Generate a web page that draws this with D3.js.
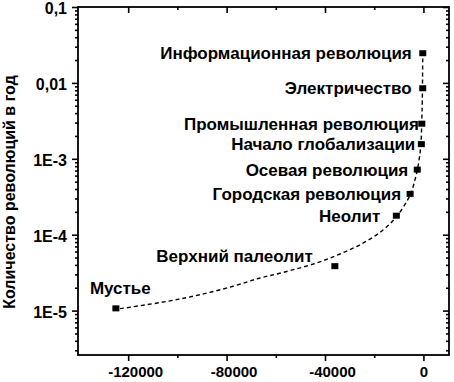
<!DOCTYPE html>
<html>
<head>
<meta charset="utf-8">
<script src="https://cdn.jsdelivr.net/npm/d3@7"></script>
<style>
  html, body { margin: 0; padding: 0; background: #fff; }
  svg text { font-family: "Liberation Sans", Arial, sans-serif; fill: #000; }
</style>
</head>
<body>
<svg id="chart" width="454" height="382"></svg>
<script>
// ---- Data ----
const categories = ["Мустье", "Верхний палеолит", "Неолит", "Городская революция",
  "Осевая революция", "Начало глобализации", "Промышленная революция",
  "Электричество", "Информационная революция"];
const years = [-125000, -36000, -11000, -5400, -2500, -850, -650, -280, -260];
const rates = [1.07e-5, 3.85e-5, 1.78e-4, 3.45e-4, 7.2e-4, 1.56e-3, 2.9e-3, 8.5e-3, 0.0246];

// dashed trend curve
const trendYears = [-123300, -104350, -90800, -77400, -66400, -56950, -43370, -33900,
  -24430, -16300, -10850, -6790, -5040, -3415, -2320, -1380, -975, -690, -450, -280];
const trendRates = [1.06e-5, 1.32e-5, 1.62e-5, 2.09e-5, 2.69e-5, 3.19e-5, 4.25e-5, 5.57e-5,
  7.78e-5, 1.16e-4, 1.74e-4, 2.74e-4, 3.54e-4, 5.30e-4, 7.55e-4, 1.19e-3, 1.61e-3, 2.95e-3,
  5.97e-3, 0.0248];

const xTickValues = [-120000, -80000, -40000, 0];
const xTickLabels = ["-120000", "-80000", "-40000", "0"];
const xMinorTicks = [-100000, -60000, -20000];
const yTickValues = [0.1, 0.01, 1e-3, 1e-4, 1e-5];
const yTickLabels = ["0,1", "0,01", "1E-3", "1E-4", "1E-5"];
const yTitle = "Количество революций в год";

// ---- Layout ----
const L = 78, R = 449, T = 7, B = 355;
const svg = d3.select("#chart");
svg.append("rect").attr("width", 454).attr("height", 382).attr("fill", "#fff");

const x = d3.scaleLinear().domain([-140400, 10400]).range([L, R]);
const y = d3.scaleLog().domain([2.6e-6, 0.1]).range([B, T]);

// minor log ticks
const yMinor = [];
for (let e = -6; e <= -2; e++) {
  for (let m = 2; m <= 9; m++) {
    const v = m * Math.pow(10, e);
    if (v >= y.domain()[0] && v <= y.domain()[1]) yMinor.push(v);
  }
}

function styleAxis(g) {
  g.select(".domain").remove();
  g.selectAll(".tick line").attr("stroke", "#000").attr("stroke-width", 1.6);
  g.selectAll("text").attr("fill", "#000");
}

// bottom axis (outward)
const gB = svg.append("g").attr("transform", `translate(0,${B})`)
  .call(d3.axisBottom(x).tickValues(xTickValues).tickSize(6).tickPadding(5)
    .tickFormat((d, i) => xTickLabels[i]));
styleAxis(gB);
gB.selectAll("text").attr("font-size", 15).attr("font-weight", "bold")
  .attr("font-family", "Liberation Sans, Arial, sans-serif")
  .attr("dx", d => d < 0 ? 7 : 0);
const gBm = svg.append("g").attr("transform", `translate(0,${B})`)
  .call(d3.axisBottom(x).tickValues(xMinorTicks).tickSize(3).tickFormat(""));
styleAxis(gBm);

// top axis (inward)
const gT = svg.append("g").attr("transform", `translate(0,${T})`)
  .call(d3.axisTop(x).tickValues(xTickValues).tickSize(-6).tickFormat(""));
styleAxis(gT);
const gTm = svg.append("g").attr("transform", `translate(0,${T})`)
  .call(d3.axisTop(x).tickValues(xMinorTicks).tickSize(-3).tickFormat(""));
styleAxis(gTm);

// left axis (outward)
const gL = svg.append("g").attr("transform", `translate(${L},0)`)
  .call(d3.axisLeft(y).tickValues(yTickValues).tickSize(6).tickPadding(5)
    .tickFormat((d, i) => yTickLabels[i]));
styleAxis(gL);
gL.selectAll("text").attr("font-size", 16).attr("font-weight", "bold")
  .attr("font-family", "Liberation Sans, Arial, sans-serif").attr("dy", "0.42em");
const gLm = svg.append("g").attr("transform", `translate(${L},0)`)
  .call(d3.axisLeft(y).tickValues(yMinor).tickSize(3).tickFormat(""));
styleAxis(gLm);

// right axis (inward)
const gR = svg.append("g").attr("transform", `translate(${R},0)`)
  .call(d3.axisRight(y).tickValues(yTickValues).tickSize(-6).tickFormat(""));
styleAxis(gR);
const gRm = svg.append("g").attr("transform", `translate(${R},0)`)
  .call(d3.axisRight(y).tickValues(yMinor).tickSize(-3).tickFormat(""));
styleAxis(gRm);

// frame
svg.append("rect").attr("x", L).attr("y", T).attr("width", R - L).attr("height", B - T)
  .attr("fill", "none").attr("stroke", "#000").attr("stroke-width", 1.8);

// y title
svg.append("text")
  .attr("transform", `translate(15,${(T + B) / 2 + 11}) rotate(-90)`)
  .attr("text-anchor", "middle")
  .attr("font-size", 16).attr("font-weight", "bold")
  .text(yTitle);

// trend curve
const trend = trendYears.map((d, i) => [d, trendRates[i]]);
svg.append("path")
  .datum(trend)
  .attr("fill", "none").attr("stroke", "#000").attr("stroke-width", 1.4)
  .attr("stroke-dasharray", "4,3")
  .attr("d", d3.line().x(d => x(d[0])).y(d => y(d[1])).curve(d3.curveCatmullRom));

// markers
const pts = categories.map((c, i) => ({ c, yr: years[i], r: rates[i] }));
svg.selectAll("rect.pt").data(pts).enter().append("rect")
  .attr("class", "pt")
  .attr("x", d => x(d.yr) - 3.5).attr("y", d => y(d.r) - 3)
  .attr("width", 7).attr("height", 6).attr("fill", "#000");

// labels: default to the left of the marker; first two placed above-left
const labelDx = [-26, -22, -16, -9, -9, -6, -3, -11, -11];
const labelDy = [-20, -10, 0, 0, 0, 0, 0, 0, 0];
const labelAnchor = ["start", "end", "end", "end", "end", "end", "end", "end", "end"];
svg.selectAll("text.lab").data(pts).enter().append("text")
  .attr("class", "lab")
  .attr("x", (d, i) => x(d.yr) + labelDx[i])
  .attr("y", (d, i) => y(d.r) + labelDy[i])
  .attr("dy", "0.36em")
  .attr("text-anchor", (d, i) => labelAnchor[i])
  .attr("font-size", 17).attr("font-weight", "bold")
  .text(d => d.c);
</script>
</body>
</html>
